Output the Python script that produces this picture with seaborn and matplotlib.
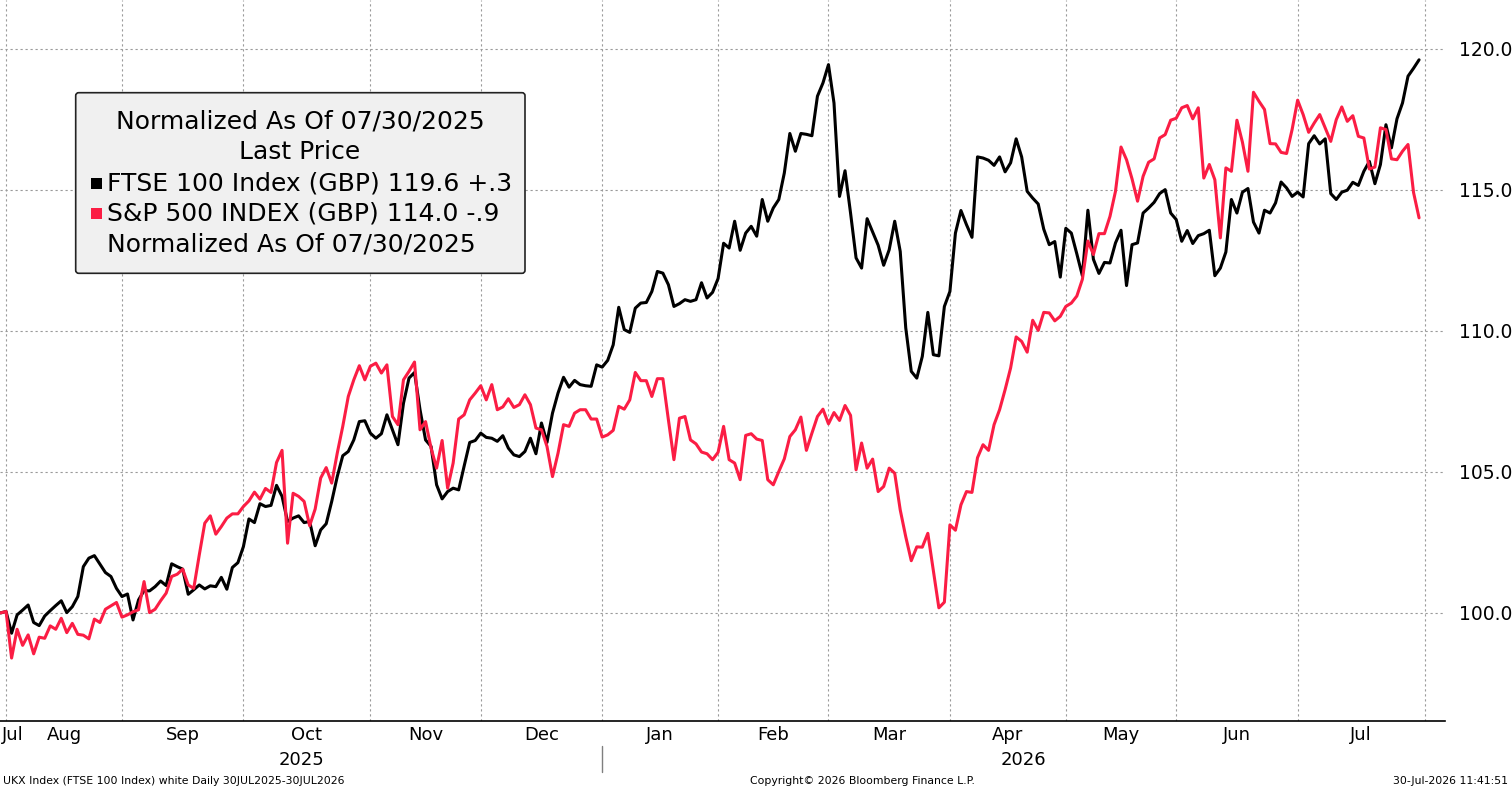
import numpy as np
import pandas as pd
import matplotlib
matplotlib.use('Agg')
import matplotlib.pyplot as plt
import matplotlib.transforms as mtransforms
from matplotlib.patches import FancyBboxPatch, Rectangle
import seaborn as sns

# days on which both markets were shut (not on the Bloomberg day axis)
holidays = ['2025-12-25', '2026-01-01', '2026-04-03', '2026-05-25']

# normalized to 100 on 07/30/2025, one value per trading day
ftse = [100.0, 100.05, 99.28, 99.93, 100.1, 100.28, 99.66, 99.55, 99.89, 100.08,
        100.26, 100.43, 100.01, 100.22, 100.58, 101.64, 101.94, 102.03, 101.73, 101.43,
        101.29, 100.87, 100.58, 100.67, 99.75, 100.46, 100.79, 100.78, 100.93, 101.13,
        100.97, 101.74, 101.64, 101.55, 100.66, 100.82, 100.99, 100.85, 100.96, 100.93,
        101.26, 100.84, 101.61, 101.78, 102.35, 103.33, 103.2, 103.87, 103.77, 103.81,
        104.52, 104.13, 103.24, 103.36, 103.44, 103.2, 103.24, 102.38, 102.94, 103.16,
        103.95, 104.83, 105.57, 105.72, 106.13, 106.78, 106.81, 106.37, 106.19, 106.35,
        107.02, 106.49, 105.96, 107.43, 108.32, 108.52, 107.2, 106.13, 105.9, 104.54,
        104.04, 104.3, 104.42, 104.36, 105.21, 106.04, 106.11, 106.37, 106.22, 106.19,
        106.08, 106.28, 105.84, 105.6, 105.54, 105.72, 106.19, 105.64, 106.73, 106.04,
        107.08, 107.79, 108.35, 108.0, 108.24, 108.09, 108.05, 108.03, 108.79, 108.71,
        108.95, 109.5, 110.83, 110.04, 109.94, 110.8, 110.98, 111.0, 111.39, 112.1,
        112.04, 111.63, 110.86, 110.96, 111.1, 111.04, 111.1, 111.7, 111.16, 111.36,
        111.85, 113.1, 112.93, 113.88, 112.85, 113.46, 113.7, 113.35, 114.65, 113.88,
        114.35, 114.65, 115.59, 116.99, 116.36, 116.99, 116.96, 116.91, 118.31, 118.78,
        119.43, 118.07, 114.76, 115.67, 114.17, 112.58, 112.22, 113.97, 113.5, 113.03,
        112.32, 112.87, 113.88, 112.81, 110.1, 108.56, 108.32, 109.09, 110.65, 109.15,
        109.11, 110.86, 111.39, 113.46, 114.26, 113.76, 113.31, 116.16, 116.12, 116.04,
        115.86, 116.16, 115.63, 115.95, 116.8, 116.16, 114.94, 114.7, 114.49, 113.6,
        113.05, 113.16, 111.9, 113.63, 113.46, 112.72, 111.95, 114.27, 112.53, 112.03,
        112.42, 112.4, 113.11, 113.56, 111.6, 113.05, 113.11, 114.17, 114.35, 114.55,
        114.86, 115.0, 114.17, 113.94, 113.17, 113.55, 113.09, 113.37, 113.44, 113.56,
        111.95, 112.22, 112.79, 114.65, 114.17, 114.91, 115.04, 113.85, 113.46, 114.27,
        114.17, 114.53, 115.27, 115.06, 114.76, 114.91, 114.74, 116.63, 116.91, 116.62,
        116.8, 114.86, 114.65, 114.91, 114.98, 115.26, 115.15, 115.65, 116.0, 115.21,
        115.89, 117.3, 116.48, 117.51, 118.07, 119.02, 119.3, 119.6]

spx = [100.0, 100.05, 98.4, 99.42, 98.85, 99.22, 98.55, 99.14, 99.1, 99.54,
       99.42, 99.81, 99.3, 99.63, 99.24, 99.21, 99.08, 99.78, 99.66, 100.13,
       100.25, 100.37, 99.85, 99.93, 100.04, 100.11, 101.11, 100.01, 100.13, 100.43,
       100.7, 101.29, 101.37, 101.55, 100.99, 100.87, 102.05, 103.18, 103.44, 102.79,
       103.06, 103.36, 103.51, 103.51, 103.77, 103.97, 104.28, 104.03, 104.41, 104.27,
       105.33, 105.76, 102.47, 104.24, 104.13, 103.95, 103.09, 103.68, 104.78, 105.15,
       104.6, 105.66, 106.61, 107.67, 108.26, 108.76, 108.26, 108.74, 108.85, 108.5,
       108.79, 106.96, 106.67, 108.26, 108.56, 108.89, 106.49, 106.78, 105.84, 105.13,
       106.11, 104.42, 105.31, 106.87, 107.02, 107.55, 107.79, 108.05, 107.55, 108.09,
       107.2, 107.3, 107.59, 107.28, 107.38, 107.73, 107.38, 106.55, 106.49, 105.9,
       104.83, 105.66, 106.67, 106.61, 107.08, 107.2, 107.2, 106.87, 106.87, 106.23,
       106.31, 106.47, 107.32, 107.22, 107.55, 108.52, 108.23, 108.23, 107.67, 108.3,
       108.3, 106.84, 105.43, 106.9, 106.96, 106.13, 105.99, 105.7, 105.64, 105.43,
       105.69, 106.61, 105.43, 105.31, 104.72, 106.29, 106.35, 106.16, 106.11, 104.72,
       104.54, 105.01, 105.46, 106.25, 106.49, 106.94, 105.76, 106.37, 106.96, 107.22,
       106.7, 107.1, 106.82, 107.35, 107.0, 105.07, 106.02, 105.13, 105.45, 104.3,
       104.48, 105.13, 104.95, 103.65, 102.7, 101.85, 102.34, 102.33, 102.82, 101.5,
       100.18, 100.38, 103.12, 102.93, 103.83, 104.3, 104.27, 105.5, 105.96, 105.76,
       106.67, 107.2, 107.91, 108.68, 109.78, 109.62, 109.24, 110.37, 110.01, 110.65,
       110.63, 110.35, 110.51, 110.86, 110.98, 111.23, 111.82, 113.18, 112.7, 113.44,
       113.44, 114.05, 114.94, 116.51, 116.06, 115.38, 114.59, 115.47, 115.97, 116.09,
       116.83, 116.95, 117.46, 117.53, 117.9, 117.98, 117.51, 117.9, 115.41, 115.89,
       115.35, 113.29, 115.77, 115.65, 117.46, 116.68, 115.65, 118.45, 118.13, 117.84,
       116.63, 116.62, 116.32, 116.28, 117.13, 118.17, 117.66, 117.03, 117.36, 117.66,
       117.19, 116.71, 117.48, 117.93, 117.42, 117.62, 116.89, 116.83, 115.73, 115.8,
       117.19, 117.13, 116.09, 116.06, 116.36, 116.6, 114.9, 114.0]

series_names = ['FTSE 100 Index (GBP)', 'S&P 500 INDEX (GBP)']
series_colors = ['#000000', '#fb1d44']
legend_rows = ['FTSE 100 Index (GBP) 119.6 +.3', 'S&P 500 INDEX (GBP) 114.0 -.9']
legend_title = ['Normalized As Of 07/30/2025', 'Last Price']
legend_foot = 'Normalized As Of 07/30/2025'
yticks = [100, 105, 110, 115, 120]

# trading-day axis, run on to the end of July 2026 for the last month boundary
cal = pd.bdate_range('2025-07-30', '2026-07-31', freq='C', holidays=holidays)
n = len(ftse)
df = pd.DataFrame({
    'day': np.tile(np.arange(n), 2),
    'value': ftse + spx,
    'series': [series_names[0]] * n + [series_names[1]] * n,
})

sns.set_style('white')
plt.rcParams['font.family'] = ['DejaVu Sans']
plt.rcParams['text.color'] = 'black'
plt.rcParams['xtick.color'] = 'black'
plt.rcParams['ytick.color'] = 'black'
plt.rcParams['ytick.labelcolor'] = 'black'

W, H = 1512, 790
fig = plt.figure(figsize=(W / 100, H / 100), dpi=100)
ax = fig.add_axes([0, 69.3 / H, 1445 / W, 720.7 / H])

sns.lineplot(data=df, x='day', y='value', hue='series',
             palette=dict(zip(series_names, series_colors)),
             linewidth=2.2, legend=False, ax=ax)

xmin, xmax = -0.1, 261.7
ax.set_xlim(xmin, xmax)
ax.set_ylim(96.18, 121.72)

# month boundaries = last trading day of each month
months = cal.to_period('M')
ends = [i for i in range(len(cal)) if i == len(cal) - 1 or months[i] != months[i + 1]]
ax.set_xticks(ends)
ax.set_xticklabels([])
ax.tick_params(axis='x', direction='out', length=4, width=1, color='black', labelbottom=False)

ax.yaxis.tick_right()
ax.set_yticks(yticks)
ax.set_yticklabels([f'{v:.1f}' for v in yticks], fontsize=13.5, color='black')
ax.tick_params(axis='y', length=0, pad=10)
ax.set_xlabel('')
ax.set_ylabel('')

ax.grid(True, color='#9a9a9a', linestyle=(0, (2, 2.5)), linewidth=0.8)
for side in ['top', 'left', 'right']:
    ax.spines[side].set_visible(False)
ax.spines['bottom'].set_color('black')
ax.spines['bottom'].set_linewidth(1.2)

blend = mtransforms.blended_transform_factory(ax.transData, fig.transFigure)
starts = [xmin] + ends[:-1]
for k, (s, e) in enumerate(zip(starts, ends)):
    label = cal[e].strftime('%b')
    if k == 0:
        ax.text(s + 0.4, 1 - 735 / H, label, transform=blend, ha='left', va='center',
                fontsize=13, color='black')
    else:
        ax.text((s + e) / 2, 1 - 735 / H, label, transform=blend, ha='center', va='center',
                fontsize=13, color='black')

year_end = [e for e in ends if cal[e].month == 12][0]
ax.text((xmin + year_end) / 2, 1 - 760 / H, '2025', transform=blend, ha='center', va='center',
        fontsize=13, color='black')
ax.text((year_end + xmax) / 2, 1 - 760 / H, '2026', transform=blend, ha='center', va='center',
        fontsize=13, color='black')
ax.plot([year_end, year_end], [1 - 746 / H, 1 - 772 / H], transform=blend,
        color='#7f7f7f', linewidth=1, clip_on=False)

# legend block
box = FancyBboxPatch((75.7 / W, 1 - 273.3 / H), 449.3 / W, 180.6 / H,
                     boxstyle='round,pad=0,rounding_size=0.002', mutation_aspect=W / H,
                     transform=fig.transFigure, facecolor='#f0f0f0', edgecolor='#222222',
                     linewidth=1.2, zorder=5)
fig.add_artist(box)
fig.text(300 / W, 1 - 121.7 / H, legend_title[0], ha='center', va='center', fontsize=18, zorder=6)
fig.text(300 / W, 1 - 151.7 / H, legend_title[1], ha='center', va='center', fontsize=18, zorder=6)
for k, (row, col) in enumerate(zip(legend_rows, series_colors)):
    yc = 183.3 + 30 * k
    fig.add_artist(Rectangle((90.7 / W, 1 - (yc + 5.5) / H), 11 / W, 11 / H,
                             transform=fig.transFigure, facecolor=col, edgecolor='none', zorder=6))
    fig.text(106.7 / W, 1 - yc / H, row, ha='left', va='center', fontsize=18, zorder=6)
fig.text(106.7 / W, 1 - 245 / H, legend_foot, ha='left', va='center', fontsize=18, zorder=6)

# footer
fig.text(3 / W, 1 - 781 / H, 'UKX Index (FTSE 100 Index) white Daily 30JUL2025-30JUL2026',
         ha='left', va='center', fontsize=7.8)
fig.text(862 / W, 1 - 781 / H, 'Copyright\u00a9 2026 Bloomberg Finance L.P.',
         ha='center', va='center', fontsize=7.8)
fig.text(1508 / W, 1 - 781 / H, '30-Jul-2026 11:41:51', ha='right', va='center', fontsize=7.8)

fig.savefig('out.png', dpi=100)
